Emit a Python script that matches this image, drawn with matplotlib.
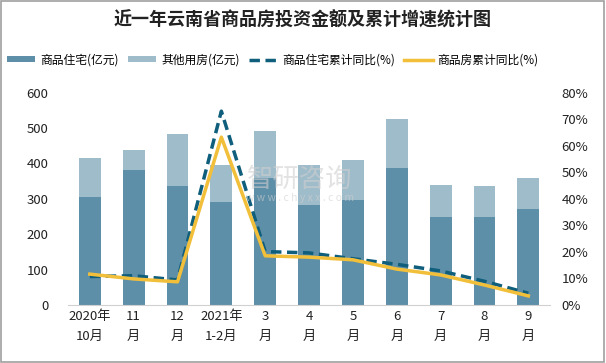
import matplotlib
matplotlib.use("Agg")
import matplotlib.pyplot as plt
from matplotlib.patches import Rectangle

plt.rcParams['font.family'] = ['Noto Sans CJK SC', 'DejaVu Sans']

months = ["2020年\n10月", "11\n月", "12\n月", "2021年\n1-2月", "3\n月", "4\n月",
          "5\n月", "6\n月", "7\n月", "8\n月", "9\n月"]
residential = [305, 380, 337, 291, 360, 283, 297, 388, 249, 249, 272]
total = [416, 439, 484, 396, 492, 396, 410, 524, 340, 337, 360]
other = [t - r for t, r in zip(total, residential)]
resid_yoy = [10.7, 11.0, 9.4, 73.0, 20.1, 19.6, 17.4, 15.3, 12.8, 8.9, 4.4]
house_yoy = [11.6, 9.8, 8.7, 63.2, 18.5, 18.0, 17.0, 13.5, 11.3, 7.5, 3.4]

c_res = "#5e8fa8"
c_oth = "#9fbccb"
c_dash = "#0e5e7c"
c_yel = "#f2bf3a"

fig = plt.figure(figsize=(6.06, 3.63), dpi=100)
fig.patches.append(Rectangle((0.002, 0.003), 0.995, 0.994, transform=fig.transFigure,
                             fill=False, edgecolor="#a0a0a0", lw=1.2))
ax = fig.add_axes([0.112, 0.160, 0.796, 0.585])
ax2 = ax.twinx()

x = list(range(len(months)))
b1 = ax.bar(x, residential, width=0.5, color=c_res, label="商品住宅(亿元)")
b2 = ax.bar(x, other, width=0.5, bottom=residential, color=c_oth, label="其他用房(亿元)")
l1, = ax2.plot(x, resid_yoy, color=c_dash, lw=2.5, ls=(0, (3, 1.6)), label="商品住宅累计同比(%)")
l2, = ax2.plot(x, house_yoy, color=c_yel, lw=2.5, label="商品房累计同比(%)")

ax.set_xlim(-0.5, len(months) - 0.5)
ax.set_ylim(0, 600)
ax.set_yticks(range(0, 601, 100))
ax2.set_ylim(0, 80)
ax2.set_yticks(range(0, 81, 10))
ax2.set_yticklabels([f"{v}%" for v in range(0, 81, 10)])
ax.set_xticks(x)
ax.set_xticklabels(months, linespacing=1.6)

for a in (ax, ax2):
    for s in a.spines.values():
        s.set_visible(False)
    a.tick_params(length=0, labelsize=9.5, colors="#222222")
ax.spines['bottom'].set_visible(True)
ax.spines['bottom'].set_color("#d0d0d0")
ax.tick_params(axis='y', pad=14)
ax2.tick_params(axis='y', pad=8)
ax.tick_params(axis='x', pad=4)

fig.text(0.5, 0.945, "近一年云南省商品房投资金额及累计增速统计图", ha="center", va="center",
         fontsize=13, fontweight="bold", color="#222222")
fig.legend(handles=[b1, b2, l1, l2], loc="center left", bbox_to_anchor=(0.0, 0.835), ncol=4,
           frameon=False, fontsize=8.5, handlelength=2.4, handleheight=0.35,
           columnspacing=0.8, handletextpad=0.4, borderaxespad=0.2)

fig.text(0.495, 0.505, "智研咨询", ha="center", va="center", fontsize=19, color="#d0d0d0",
         alpha=0.6, zorder=10)
fig.text(0.495, 0.455, "w w w . c h y x x . c o m", ha="center", va="center", fontsize=7.5,
         color="#d0d0d0", alpha=0.6, zorder=10)

fig.savefig("out.png", dpi=100)
